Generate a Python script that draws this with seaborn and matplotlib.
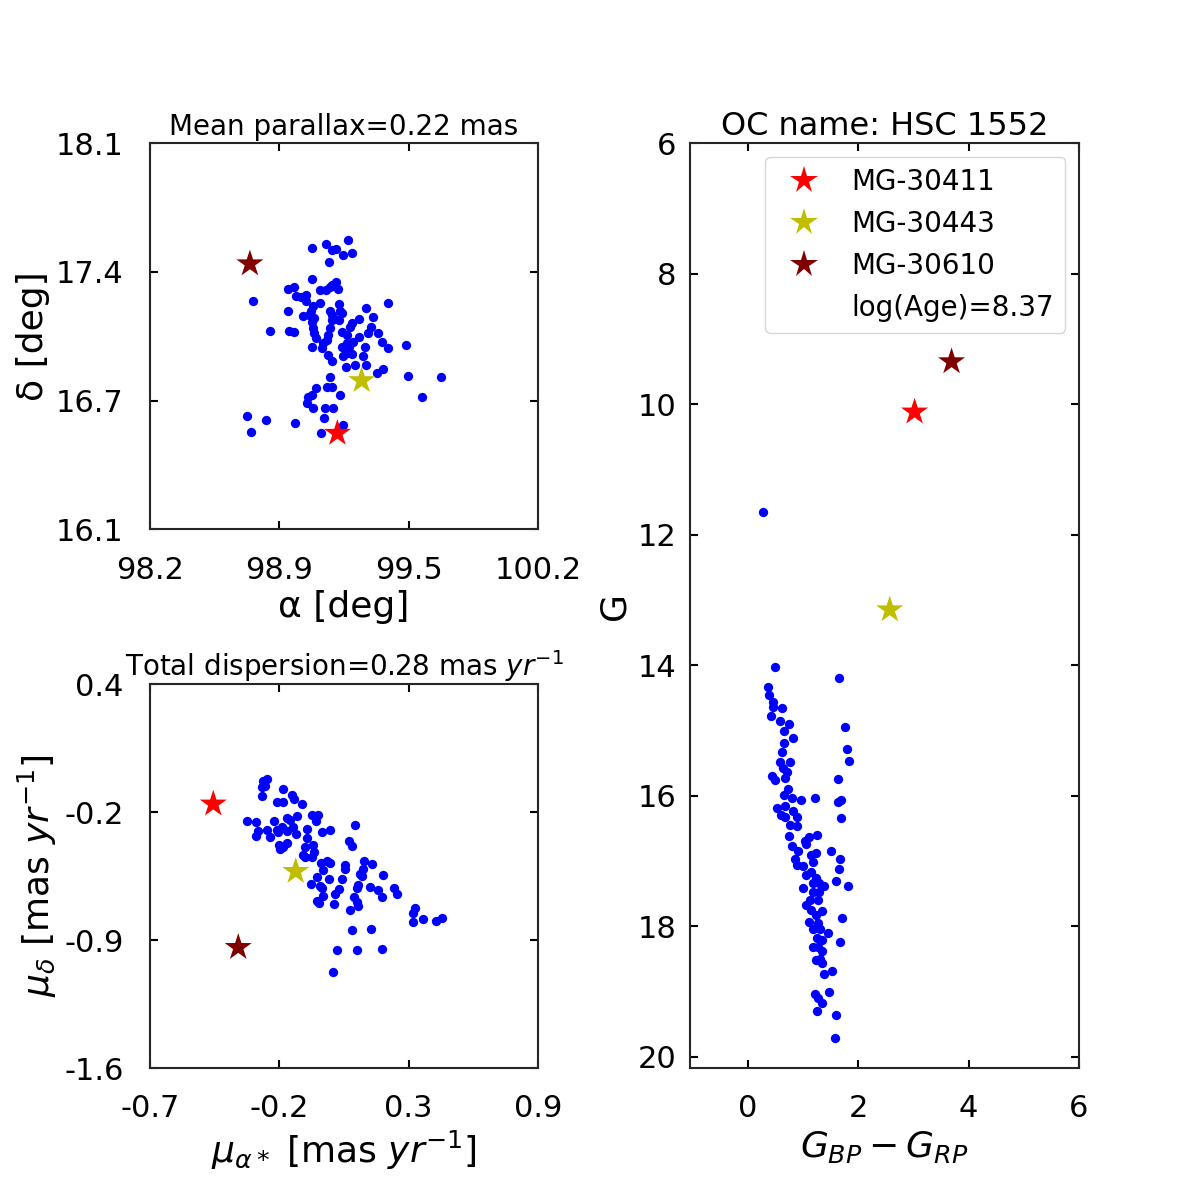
import numpy as np
import pandas as pd
import matplotlib
matplotlib.use('Agg')
import matplotlib.pyplot as plt
import seaborn as sns

# ---- cluster members: sky position ----
ra = [99.037, 99.109, 99.140, 99.157, 99.222, 99.197, 99.243, 99.124, 99.037, 98.913,
      98.942, 98.951, 98.977, 99.002, 99.004, 99.076, 99.107, 99.136, 99.157, 99.167,
      99.128, 98.733, 99.427, 99.078, 98.913, 99.042, 99.032, 99.021, 98.990, 99.045,
      99.033, 99.128, 99.140, 99.174, 99.179, 99.188, 99.145, 99.136, 99.176, 99.315,
      99.279, 99.240, 99.231, 99.348, 98.820, 98.918, 98.942, 99.038, 99.047, 99.054,
      99.128, 99.119, 99.111, 99.093, 99.188, 99.214, 99.337, 99.325, 99.279, 99.248,
      99.214, 99.377, 99.398, 99.427, 99.520, 99.037, 99.085, 99.188, 99.227, 99.193,
      99.214, 99.241, 99.308, 99.300, 99.119, 99.140, 99.210, 99.257, 99.312, 99.370,
      99.403, 99.532, 99.702, 99.128, 99.111, 99.140, 99.056, 99.033, 99.016, 99.008,
      99.179, 99.604, 99.042, 99.102, 99.145, 98.702, 98.800, 98.947, 99.097, 98.722,
      99.081, 99.193]
dec = [17.559, 17.577, 17.546, 17.554, 17.596, 17.518, 17.530, 17.483, 17.394, 17.342,
       17.354, 17.309, 17.302, 17.314, 17.283, 17.340, 17.340, 17.366, 17.383, 17.345,
       17.357, 17.280, 17.274, 17.274, 17.228, 17.254, 17.233, 17.211, 17.207, 17.193,
       17.176, 17.233, 17.211, 17.266, 17.228, 17.219, 17.198, 17.185, 17.185, 17.245,
       17.188, 17.167, 17.150, 17.197, 17.129, 17.129, 17.124, 17.141, 17.116, 17.090,
       17.141, 17.107, 17.081, 17.064, 17.124, 17.107, 17.147, 17.119, 17.095, 17.072,
       17.064, 17.116, 17.069, 17.038, 17.053, 17.043, 17.038, 17.043, 17.043, 16.995,
       17.012, 17.007, 17.043, 16.998, 17.003, 16.969, 16.939, 16.951, 16.951, 16.908,
       16.931, 16.896, 16.891, 16.891, 16.839, 16.839, 16.834, 16.796, 16.784, 16.756,
       16.793, 16.787, 16.727, 16.730, 16.730, 16.684, 16.665, 16.648, 16.675, 16.601,
       16.596, 16.639]

# ---- cluster members: proper motion ----
pmra = [-0.219, -0.233, -0.238, -0.226, -0.237, -0.150, -0.116, -0.105, -0.075, -0.178,
        -0.150, -0.300, -0.263, -0.253, -0.263, -0.219, -0.205, -0.187, -0.178, -0.171,
        -0.157, -0.136, -0.123, -0.095, -0.109, -0.099, -0.136, -0.167, -0.153, -0.136,
        -0.164, -0.033, -0.009, -0.015, -0.051, -0.054, 0.008, 0.042, 0.144, 0.121,
        0.134, -0.061, -0.026, -0.024, -0.070, -0.061, -0.031, 0.004, 0.029, 0.042,
        0.015, 0.105, 0.104, 0.181, 0.215, 0.180, 0.166, 0.176, 0.262, -0.010,
        0.040, 0.093, -0.035, 0.001, 0.008, 0.015, -0.013, -0.002, 0.060, 0.063,
        0.081, 0.159, 0.152, 0.207, 0.239, 0.258, 0.308, 0.317, 0.141, 0.152,
        0.125, 0.159, 0.393, 0.386, 0.386, 0.427, 0.479, 0.503, 0.134, 0.213,
        0.070, 0.155, 0.258, 0.056]
pmdec = [-0.095, -0.107, -0.135, -0.130, -0.185, -0.149, -0.178, -0.199, -0.225, -0.215,
         -0.216, -0.315, -0.320, -0.364, -0.393, -0.359, -0.395, -0.315, -0.359, -0.373,
         -0.347, -0.298, -0.308, -0.289, -0.347, -0.381, -0.364, -0.437, -0.447, -0.430,
         -0.459, -0.281, -0.282, -0.315, -0.355, -0.404, -0.373, -0.360, -0.336, -0.419,
         -0.442, -0.451, -0.439, -0.473, -0.492, -0.503, -0.503, -0.532, -0.524, -0.532,
         -0.567, -0.541, -0.565, -0.524, -0.539, -0.564, -0.590, -0.602, -0.597, -0.603,
         -0.616, -0.616, -0.642, -0.650, -0.663, -0.702, -0.732, -0.741, -0.746, -0.694,
         -0.668, -0.647, -0.663, -0.659, -0.671, -0.711, -0.663, -0.694, -0.711, -0.737,
         -0.775, -0.758, -0.767, -0.791, -0.840, -0.826, -0.836, -0.820, -0.883, -0.878,
         -0.987, -0.987, -0.982, -1.102]

# ---- cluster members: CMD ----
bp_rp = [0.27, 0.49, 1.65, 0.37, 0.39, 0.46, 0.46, 0.62, 0.42, 0.58,
         0.75, 1.76, 0.66, 0.82, 0.66, 1.79, 0.61, 1.83, 0.58, 0.77,
         0.64, 0.71, 0.44, 0.49, 0.67, 1.63, 0.73, 0.65, 0.79, 0.96,
         1.22, 1.63, 1.69, 0.53, 0.67, 0.59, 0.67, 0.82, 0.88, 1.69,
         0.77, 0.88, 0.75, 1.10, 1.25, 1.03, 1.06, 0.80, 0.91, 1.23,
         1.14, 1.51, 0.85, 1.67, 0.88, 1.00, 1.18, 1.65, 1.15, 1.06,
         1.24, 1.59, 1.81, 1.17, 1.29, 1.37, 1.00, 1.18, 1.29, 1.12,
         1.27, 1.06, 1.15, 1.35, 1.24, 1.71, 1.11, 1.27, 1.18, 1.31,
         1.45, 1.25, 1.35, 1.67, 1.18, 1.27, 1.35, 1.23, 1.30, 1.35,
         1.38, 1.53, 1.22, 1.47, 1.27, 1.35, 1.25, 1.60, 1.58]
gmag = [11.65, 14.03, 14.20, 14.34, 14.45, 14.57, 14.64, 14.66, 14.78, 14.85,
        14.90, 14.95, 15.01, 15.12, 15.19, 15.29, 15.33, 15.46, 15.48, 15.48,
        15.58, 15.63, 15.70, 15.76, 15.72, 15.75, 15.89, 15.99, 16.04, 16.07,
        16.04, 16.10, 16.07, 16.19, 16.15, 16.30, 16.33, 16.24, 16.33, 16.34,
        16.45, 16.47, 16.61, 16.63, 16.60, 16.69, 16.74, 16.77, 16.85, 16.88,
        16.90, 16.85, 16.97, 16.97, 17.06, 17.07, 17.02, 17.12, 17.16, 17.21,
        17.26, 17.30, 17.38, 17.34, 17.34, 17.38, 17.42, 17.47, 17.47, 17.59,
        17.60, 17.67, 17.75, 17.76, 17.82, 17.87, 17.93, 17.95, 18.04, 18.04,
        18.10, 18.18, 18.21, 18.24, 18.31, 18.31, 18.37, 18.51, 18.50, 18.56,
        18.73, 18.69, 19.03, 19.01, 19.10, 19.17, 19.30, 19.36, 19.71]

# ---- highlighted stars ----
star_names = ['MG-30411', 'MG-30443', 'MG-30610']
star_colors = ['r', 'y', 'maroon']
star_ra = [99.166, 99.291, 98.715]
star_dec = [16.597, 16.870, 17.475]
star_pmra = [-0.439, -0.099, -0.336]
star_pmdec = [-0.225, -0.576, -0.972]
star_bp_rp = [3.02, 2.57, 3.69]
star_g = [10.12, 13.15, 9.35]

sky_xticks = ['98.2', '98.9', '99.5', '100.2']
sky_yticks = ['16.1', '16.7', '17.4', '18.1']
pm_xticks = ['-0.7', '-0.2', '0.3', '0.9']
pm_yticks = ['-1.6', '-0.9', '-0.2', '0.4']

sns.set_style('ticks')
plt.rcParams['font.family'] = ['DejaVu Sans']
plt.rcParams['text.color'] = 'black'
plt.rcParams['axes.labelcolor'] = 'black'
plt.rcParams['xtick.color'] = 'black'
plt.rcParams['ytick.color'] = 'black'

fig = plt.figure(figsize=(12, 12), dpi=100)
ax1 = fig.add_axes([0.125, 0.559, 0.3233, 0.3217])
ax2 = fig.add_axes([0.125, 0.11, 0.3233, 0.32])
ax3 = fig.add_axes([0.575, 0.11, 0.3242, 0.7708])

dot = dict(color='b', s=45, linewidth=0)
stars = pd.DataFrame({'name': star_names, 'ra': star_ra, 'dec': star_dec,
                      'pmra': star_pmra, 'pmdec': star_pmdec,
                      'bp_rp': star_bp_rp, 'g': star_g})
pal = dict(zip(star_names, star_colors))

# sky position
sns.scatterplot(x=ra, y=dec, ax=ax1, **dot)
sns.scatterplot(data=stars, x='ra', y='dec', hue='name', palette=pal, marker='*',
                s=420, linewidth=0, ax=ax1, legend=False)
ax1.set_xlim(98.2, 100.2)
ax1.set_ylim(16.1, 18.1)
ax1.set_xticks(np.linspace(98.2, 100.2, 4), sky_xticks)
ax1.set_yticks(np.linspace(16.1, 18.1, 4), sky_yticks)
ax1.set_xlabel('α [deg]', fontsize=26)
ax1.set_ylabel('δ [deg]', fontsize=26)
ax1.set_title('Mean parallax=0.22 mas', fontsize=20)

# proper motion
sns.scatterplot(x=pmra, y=pmdec, ax=ax2, **dot)
sns.scatterplot(data=stars, x='pmra', y='pmdec', hue='name', palette=pal, marker='*',
                s=420, linewidth=0, ax=ax2, legend=False)
ax2.set_xlim(-0.7, 0.9)
ax2.set_ylim(-1.6, 0.4)
ax2.set_xticks(np.linspace(-0.7, 0.9, 4), pm_xticks)
ax2.set_yticks(np.linspace(-1.6, 0.4, 4), pm_yticks)
ax2.set_xlabel(r'$\mu_{\alpha*}$ [mas $yr^{-1}$]', fontsize=26)
ax2.set_ylabel(r'$\mu_{\delta}$ [mas $yr^{-1}$]', fontsize=26)
ax2.set_title(r'Total dispersion=0.28 mas $yr^{-1}$', fontsize=20)

# CMD
sns.scatterplot(x=bp_rp, y=gmag, ax=ax3, **dot)
sns.scatterplot(data=stars, x='bp_rp', y='g', hue='name', palette=pal, marker='*',
                s=420, linewidth=0, ax=ax3)
ax3.plot([], [], ' ', label='log(Age)=8.37')
ax3.set_xlim(-1.05, 6)
ax3.set_ylim(20.17, 6)
ax3.set_xticks([0, 2, 4, 6])
ax3.set_yticks([6, 8, 10, 12, 14, 16, 18, 20])
ax3.set_xlabel(r'$G_{BP}-G_{RP}$', fontsize=26)
ax3.set_ylabel('G', fontsize=26, labelpad=4)
ax3.set_title('OC name: HSC 1552', fontsize=23)
ax3.legend(loc='upper right', fontsize=20, frameon=True, borderpad=0.4,
           handletextpad=0.7, labelspacing=0.5, markerscale=1.0)

for ax in (ax1, ax2, ax3):
    ax.tick_params(direction='in', top=True, right=True, length=6, width=1.5,
                   labelsize=22)
    ax.tick_params(axis='x', pad=19)
    for sp in ax.spines.values():
        sp.set_linewidth(1.5)
        sp.set_color('#262626')

ax1.tick_params(axis='y', pad=19)
ax2.tick_params(axis='y', pad=19)
ax3.tick_params(axis='y', pad=10)

fig.savefig('out.png', dpi=100)
